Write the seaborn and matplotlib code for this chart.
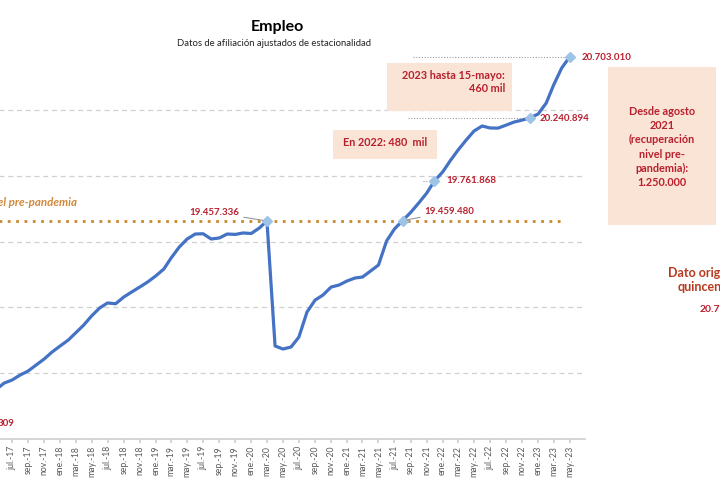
import numpy as np
import pandas as pd
import seaborn as sns
import matplotlib.pyplot as plt
import matplotlib.dates as mdates
import matplotlib.patches as patches

# Afiliación desestacionalizada (mensual)
months = ['2017-04', '2017-05', '2017-06', '2017-07', '2017-08', '2017-09', '2017-10', '2017-11', '2017-12',
          '2018-01', '2018-02', '2018-03', '2018-04', '2018-05', '2018-06', '2018-07', '2018-08', '2018-09',
          '2018-10', '2018-11', '2018-12', '2019-01', '2019-02', '2019-03', '2019-04', '2019-05', '2019-06',
          '2019-07', '2019-08', '2019-09', '2019-10', '2019-11', '2019-12', '2020-01', '2020-02', '2020-03',
          '2020-04', '2020-05', '2020-06', '2020-07', '2020-08', '2020-09', '2020-10', '2020-11', '2020-12',
          '2021-01', '2021-02', '2021-03', '2021-04', '2021-05', '2021-06', '2021-07', '2021-08', '2021-09',
          '2021-10', '2021-11', '2021-12', '2022-01', '2022-02', '2022-03', '2022-04', '2022-05', '2022-06',
          '2022-07', '2022-08', '2022-09', '2022-10', '2022-11', '2022-12', '2023-01', '2023-02', '2023-03',
          '2023-04', '2023-05']
afiliados = [18142000, 18175000, 18225000, 18248000, 18286000, 18317000, 18362000, 18408000, 18461000,
             18507000, 18552000, 18606000, 18666000, 18735000, 18796000, 18834000, 18828000, 18879000,
             18917000, 18955000, 18993000, 19039000, 19092000, 19176000, 19259000, 19320000, 19358000,
             19360000, 19320000, 19328000, 19358000, 19355000, 19366000, 19362000, 19404000, 19457336,
             18507000, 18484000, 18499000, 18575000, 18765000, 18856000, 18894000, 18955000, 18970000,
             19001000, 19024000, 19031000, 19077000, 19122000, 19305000, 19396000, 19459480, 19522000,
             19592000, 19668000, 19761868, 19829000, 19920000, 19996000, 20072000, 20141000, 20179000,
             20164000, 20163000, 20186000, 20209000, 20224000, 20240894, 20270000, 20354000, 20490000,
             20620000, 20703010]

# puntos destacados
hitos = ['2020-03', '2021-08', '2021-12', '2022-12', '2023-05']
hito_labels = ['19.457.336', '19.459.480', '19.761.868', '20.240.894', '20.703.010']
pre_pandemia = 19457336

meses_es = ['ene', 'feb', 'mar', 'abr', 'may', 'jun', 'jul', 'ago', 'sep', 'oct', 'nov', 'dic']
tick_dates = pd.date_range('2017-07-01', '2023-05-01', freq='2MS')

df = pd.DataFrame({'fecha': pd.to_datetime(months), 'afiliados': afiliados})
hit = df[df['fecha'].isin(pd.to_datetime(hitos))].reset_index(drop=True)

sns.set_theme(style='white')
plt.rcParams['font.family'] = ['Lato', 'DejaVu Sans']

W, H = 720, 480
fig = plt.figure(figsize=(7.2, 4.8), dpi=100)
fig.patch.set_facecolor('white')

def fx(px):
    return px / W

def fy(py):
    return 1 - py / H

# plot area (left side is cut off in the original)
ax = fig.add_axes([fx(-35.4), fy(439), fx(585 + 35.4), fy(44.3) - fy(439)])
ax.set_facecolor('white')

red = '#B8202E'
blue = '#4472C4'
orange = '#C98A2E'

ax.set_ylim(17800000, 20800000)
ax.set_xlim(pd.Timestamp('2017-01-01'), pd.Timestamp('2023-06-29'))
ax.set_yticks([18300000, 18800000, 19300000, 19800000, 20300000])
ax.yaxis.grid(True, color='#D0D0D0', linestyle=(0, (4, 3)), linewidth=0.9)
ax.set_yticklabels([])
ax.tick_params(axis='y', length=0)

# linea nivel pre-pandemia
ax.hlines(pre_pandemia, pd.Timestamp('2017-01-01'), pd.Timestamp('2023-04-01'),
          colors=orange, linestyles=(0, (1, 2)), linewidth=2.0, zorder=2)

# lineas guia grises
ax.hlines(hit['afiliados'][4], pd.Timestamp('2021-09-10'), hit['fecha'][4], colors='#9A9A9A',
          linestyles=(0, (1, 1.5)), linewidth=0.8, zorder=2)
ax.hlines(hit['afiliados'][3], pd.Timestamp('2021-08-20'), hit['fecha'][3], colors='#9A9A9A',
          linestyles=(0, (1, 1.5)), linewidth=0.8, zorder=2)
ax.hlines(hit['afiliados'][2], pd.Timestamp('2021-10-18'), hit['fecha'][2], colors='#9A9A9A',
          linestyles=(0, (1, 1.5)), linewidth=0.8, zorder=2)

sns.lineplot(data=df, x='fecha', y='afiliados', ax=ax, color=blue, linewidth=2.3, zorder=3)
ax.plot(hit['fecha'], hit['afiliados'], linestyle='none', marker='D', markersize=5.5,
        color='#9DC3E6', markeredgecolor='#9DC3E6', zorder=4)

label_offsets = [(-20, 6), (16, 6.5), (8.5, 0), (7, -0.5), (8.5, -0.5)]
label_ha = ['right', 'left', 'left', 'left', 'left']
for i in range(len(hit)):
    arrow = None
    if i in (0, 1):
        arrow = dict(arrowstyle='-', color='#8C8C8C', lw=0.7, shrinkA=1, shrinkB=3)
    ax.annotate(hito_labels[i], (hit['fecha'][i], hit['afiliados'][i]), xytext=label_offsets[i],
                textcoords='offset points', ha=label_ha[i], va='center', fontsize=7,
                fontweight='bold', color=red, arrowprops=arrow, zorder=5)

# eje x
ax.set_xticks(tick_dates)
ax.set_xticklabels([f"{meses_es[d.month - 1]}.-{d.year % 100:02d}" for d in tick_dates])
ax.tick_params(axis='x', rotation=90, labelsize=6.2, labelcolor='#595959', length=3,
               color='#D0D0D0', pad=2, bottom=True)
ax.set_xlabel('')
ax.set_ylabel('')
for s in ['top', 'right', 'left']:
    ax.spines[s].set_visible(False)
ax.spines['bottom'].set_color('#D0D0D0')

# titulos
fig.text(fx(277), fy(27), 'Empleo', ha='center', va='center', fontsize=11.5, fontweight='bold', color='black')
fig.text(fx(274), fy(43), 'Datos de afiliación ajustados de estacionalidad', ha='center', va='center',
         fontsize=6.8, color='#222222')

fig.text(fx(77), fy(203), 'Nivel pre-pandemia', ha='right', va='center', fontsize=8.3,
         fontweight='bold', fontstyle='italic', color='#D0883A')
fig.text(fx(15), fy(424), '309', ha='right', va='center', fontsize=7, fontweight='bold', color=red)

# cajas
box = '#FAE4D6'
fig.add_artist(patches.Rectangle((fx(387), fy(111)), fx(125), fy(63) - fy(111),
                                 transform=fig.transFigure, facecolor=box, edgecolor='none', zorder=1))
fig.text(fx(505), fy(82), '2023 hasta 15-mayo:\n460 mil', ha='right', va='center', fontsize=7.8,
         fontweight='bold', color=red, linespacing=1.3)

fig.add_artist(patches.Rectangle((fx(333), fy(159)), fx(104), fy(130) - fy(159),
                                 transform=fig.transFigure, facecolor=box, edgecolor='none', zorder=1))
fig.text(fx(385), fy(142), 'En 2022: 480  mil', ha='center', va='center', fontsize=7.8,
         fontweight='bold', color=red)

fig.add_artist(patches.Rectangle((fx(608), fy(225)), fx(108), fy(67) - fy(225),
                                 transform=fig.transFigure, facecolor=box, edgecolor='none', zorder=1))
fig.text(fx(662), fy(147), 'Desde agosto\n2021\n(recuperación\nnivel pre-\npandemia):\n1.250.000',
         ha='center', va='center', fontsize=7.8, fontweight='bold', color=red, linespacing=1.35)

# dato original (cortado a la derecha)
fig.text(fx(704), fy(280), 'Dato original\nquincenal', ha='center', va='center', fontsize=9,
         fontweight='bold', color='#B83A1E', linespacing=1.15)
fig.text(fx(700), fy(310), '20.7', ha='left', va='center', fontsize=7.5, fontweight='bold', color=red)

fig.savefig('out.png', dpi=100)
